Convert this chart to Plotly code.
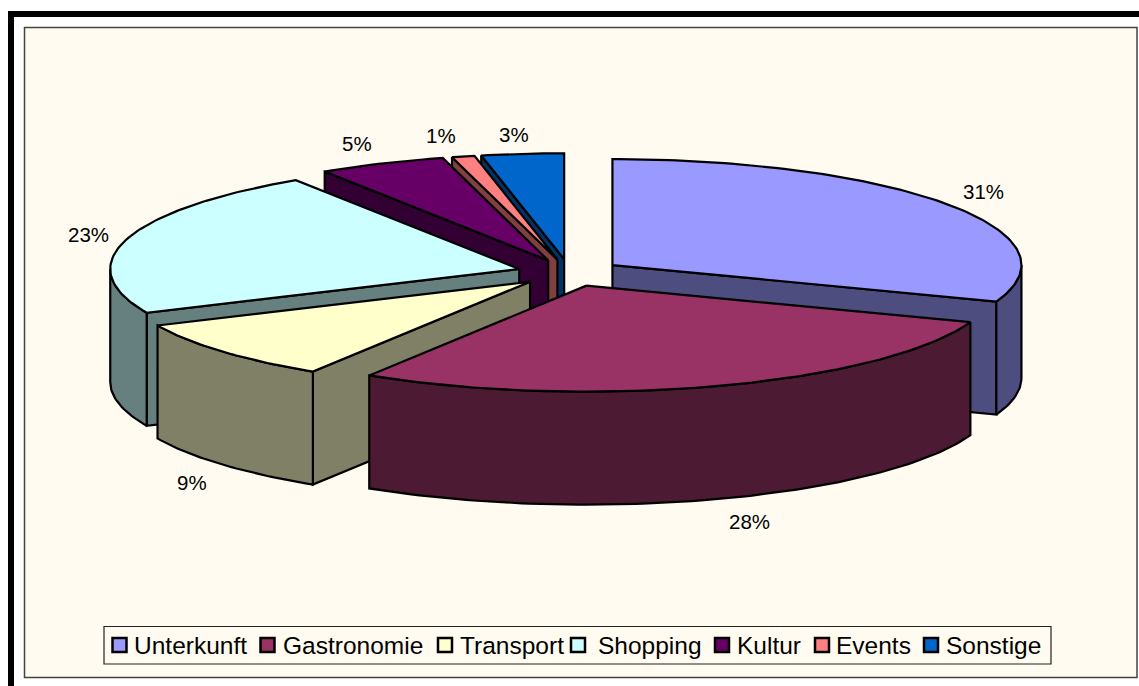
import math
import plotly.graph_objects as go

categories = ["Unterkunft", "Gastronomie", "Transport", "Shopping", "Kultur", "Events", "Sonstige"]
values = [30.6, 28.31, 9.32, 22.57, 5.05, 0.9, 3.25]
top_colors = ["#9999FF", "#993366", "#FFFFCC", "#CCFFFF", "#660066", "#FF8080", "#0066CC"]
side_colors = ["#4D4D80", "#4D1A33", "#808066", "#668080", "#330033", "#804040", "#003366"]
draw_order = [6, 5, 4, 3, 0, 2, 1]
label_pos = [(983, 191), (749, 521), (192, 482), (88, 234), (357, 143), (441, 135), (514, 134)]
legend_swatch_x = [119.5, 267.5, 445, 578, 722, 822, 931]
legend_text_x = [132, 281, 458, 596, 735, 834, 944]

CX, CY, RX, RY, DEPTH, EXPLODE = 569.5, 272.8, 409, 106, 113, 0.128
LINE = dict(color="#000000", width=2.2)
FONT = "Liberation Sans, Arial, sans-serif"


def pt(ax, ay, deg):
    r = math.radians(deg)
    return ax + RX * math.sin(r), ay - RY * math.cos(r)


def arc(ax, ay, a, b):
    n = max(2, int(abs(b - a)) + 1)
    return [pt(ax, ay, a + (b - a) * i / n) for i in range(n + 1)]


def poly(points, color, name):
    xs = [p[0] for p in points] + [points[0][0]]
    ys = [p[1] for p in points] + [points[0][1]]
    return go.Scatter(x=xs, y=ys, mode="lines", fill="toself", fillcolor=color,
                      line=LINE, name=name, showlegend=False, hoverinfo="skip")


total = sum(values)
spans = []
acc = 0.0
for v in values:
    spans.append((acc / total * 360, (acc + v) / total * 360))
    acc += v

fig = go.Figure()
for i in draw_order:
    a, b = spans[i]
    mid = math.radians((a + b) / 2)
    ax = CX + EXPLODE * RX * math.sin(mid)
    ay = CY - EXPLODE * RY * math.cos(mid)
    name, top, side = categories[i], top_colors[i], side_colors[i]
    for edge, visible in ((a, math.sin(math.radians(a)) < -1e-9), (b, math.sin(math.radians(b)) > 1e-9)):
        if visible:
            ex, ey = pt(ax, ay, edge)
            fig.add_trace(poly([(ax, ay), (ex, ey), (ex, ey + DEPTH), (ax, ay + DEPTH)], side, name))
    lo, hi = max(a, 90), min(b, 270)
    if lo < hi:
        front = arc(ax, ay, lo, hi)
        fig.add_trace(poly(front + [(x, y + DEPTH) for x, y in reversed(front)], side, name))
    fig.add_trace(poly([(ax, ay)] + arc(ax, ay, a, b), top, name))

for i, name in enumerate(categories):
    fig.add_trace(go.Scatter(x=[legend_swatch_x[i]], y=[645], mode="markers", name=name,
                             marker=dict(symbol="square", size=14, color=top_colors[i],
                                         line=dict(color="#000000", width=2.5)),
                             showlegend=False, hoverinfo="skip"))

annotations = []
for i, name in enumerate(categories):
    annotations.append(dict(x=legend_text_x[i], y=645.5, text=name, showarrow=False, xanchor="left",
                            yanchor="middle", xref="x", yref="y",
                            font=dict(family=FONT, size=24.5, color="#000000")))
    annotations.append(dict(x=label_pos[i][0], y=label_pos[i][1], text=f"{round(values[i])}%", showarrow=False,
                            xanchor="center", yanchor="middle", xref="x", yref="y",
                            font=dict(family=FONT, size=20.5, color="#000000")))

shapes = [
    dict(type="rect", x0=24.5, y0=27.5, x1=1137, y1=677.5, fillcolor="#FFFBF0",
         line=dict(color="#444444", width=1.5), layer="below"),
    dict(type="rect", x0=8, y0=11, x1=1139, y1=17, fillcolor="#000000", line=dict(width=0), layer="below"),
    dict(type="rect", x0=8, y0=11, x1=14, y1=686, fillcolor="#000000", line=dict(width=0), layer="below"),
    dict(type="rect", x0=104, y0=626.5, x1=1051, y1=664, fillcolor="#FFFBF0",
         line=dict(color="#222222", width=1.2), layer="below"),
]

fig.update_layout(
    width=1139, height=686, margin=dict(l=0, r=0, t=0, b=0),
    paper_bgcolor="#FFFFFF", plot_bgcolor="rgba(0,0,0,0)", showlegend=False,
    xaxis=dict(range=[0, 1139], visible=False, fixedrange=True),
    yaxis=dict(range=[686, 0], visible=False, fixedrange=True),
    shapes=shapes, annotations=annotations,
)
fig.write_html(
    "out.html",
    config={"displayModeBar": False},
    post_script="document.body.style.margin='0';document.documentElement.style.overflow='hidden';",
)
